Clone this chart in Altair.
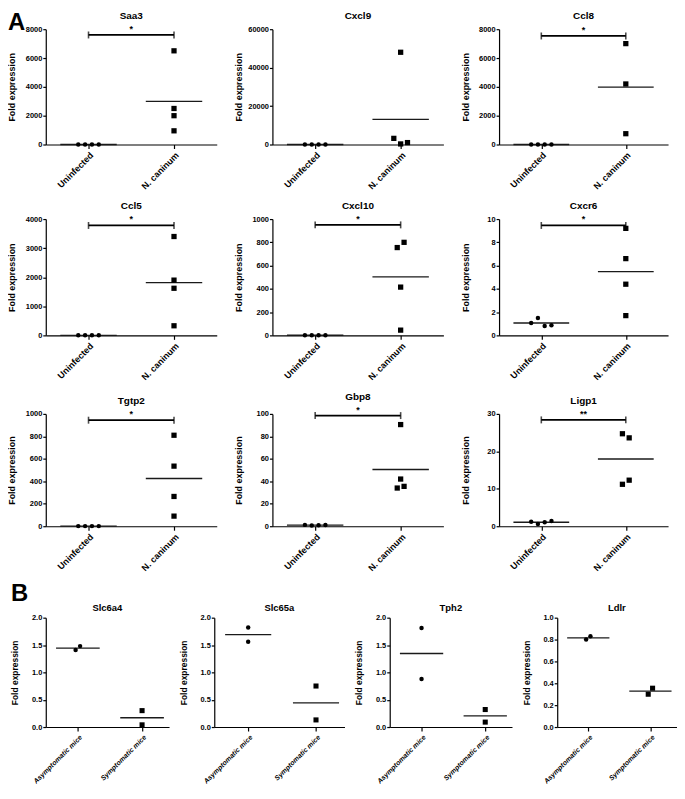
import altair as alt
import pandas as pd

FONT = "Liberation Sans"

# ---------------- Panel A data ----------------
A_GENES = ["Saa3", "Cxcl9", "Ccl8", "Ccl5", "Cxcl10", "Cxcr6", "Tgtp2", "Gbp8", "Ligp1"]
A_GROUPS = ["Uninfected", "N. caninum"]
A_YMAX = [8000, 60000, 8000, 4000, 1000, 10, 1000, 100, 30]
A_YSTEP = [2000, 20000, 2000, 1000, 200, 2, 200, 20, 10]
A_UNINFECTED = [
    [1.0, 1.0, 1.0, 1.0],
    [1.0, 1.0, 1.0, 1.0],
    [1.0, 1.0, 1.0, 1.0],
    [1.0, 1.0, 1.0, 1.0],
    [1.0, 1.0, 1.0, 1.0],
    [1.07, 1.5, 0.81, 0.87],
    [1.0, 1.0, 1.0, 1.0],
    [1.2, 0.6, 0.8, 1.1],
    [1.21, 0.61, 1.04, 1.39],
]
A_INFECTED = [
    [6500, 2500, 2000, 950],
    [48000, 3200, 300, 1000],
    [7000, 4200, 750],
    [3400, 1900, 1620, 330],
    [755, 800, 415, 45],
    [9.2, 6.6, 4.4, 1.7],
    [810, 535, 265, 90],
    [90.5, 42, 34, 35.5],
    [24.7, 23.6, 11.2, 12.3],
]
A_SIG_LABEL = ["*", "", "*", "*", "*", "*", "*", "*", "**"]
A_SIG_Y = [7600, 0, 7530, 3780, 950, 9.45, 944, 98.5, 28.4]

# ---------------- Panel B data ----------------
B_GENES = ["Slc6a4", "Slc65a", "Tph2", "Ldlr"]
B_GROUPS = ["Asymptomatic mice", "Symptomatic mice"]
B_YMAX = [2.0, 2.0, 2.0, 1.0]
B_YSTEP = [0.5, 0.5, 0.5, 0.2]
B_ASYMPTOMATIC = [[1.41, 1.48], [1.82, 1.56], [1.81, 0.88], [0.80, 0.83]]
B_SYMPTOMATIC = [[0.30, 0.04], [0.75, 0.13], [0.32, 0.09], [0.30, 0.355]]


def spread(vals, ymax, hpx, step, thr=7.0):
    """Horizontal offsets so that points that would overlap are placed side by side."""
    n = len(vals)
    px = [v / ymax * hpx for v in vals]
    order = sorted(range(n), key=lambda i: vals[i])
    clusters, cur = [], [order[0]]
    for a, b in zip(order, order[1:]):
        if px[b] - px[a] < thr:
            cur.append(b)
        else:
            clusters.append(cur)
            cur = [b]
    clusters.append(cur)
    off = [0.0] * n
    for c in clusters:
        cs = sorted(c)
        k = len(cs)
        for j, i in enumerate(cs):
            off[i] = (j - (k - 1) / 2) * step
    return off


def panel(title, groups, vals0, vals1, ymax, ystep, fmt, sig_label, sig_y,
          width, height, st):
    rows = []
    for gi, vals in enumerate((vals0, vals1)):
        offs = spread(vals, ymax, height, st["step"])
        for v, o in zip(vals, offs):
            rows.append({"group": groups[gi], "g": gi, "x": gi + o, "y": v})
    df = pd.DataFrame(rows)
    n = int(round(ymax / ystep))
    ticks = [round(i * ystep, 4) for i in range(n + 1)]
    xs = alt.Scale(domain=st["xdom"], nice=False, zero=False)
    ys = alt.Scale(domain=[0, ymax], nice=False, zero=True)
    lab = f"datum.value == 0 ? '{groups[0]}' : '{groups[1]}'"
    xa = alt.Axis(values=[0, 1], labelExpr=lab, title=None, labelAngle=-45,
                  labelFontSize=st["xlab"], labelFontStyle=st["xstyle"],
                  labelPadding=2, tickSize=4, grid=False)
    ya = alt.Axis(values=ticks, format=fmt, title="Fold expression",
                  titleFontSize=st["ytitle"], labelFontSize=st["ylab"],
                  minExtent=st["ext"], maxExtent=st["ext"], tickSize=3, labelPadding=1,
                  titlePadding=st["tpad"], grid=False)

    def X(f):
        return alt.X(f, scale=xs, axis=xa)

    def Y(f):
        return alt.Y(f, scale=ys, axis=ya)

    base = alt.Chart(df)
    layers = [
        base.transform_aggregate(m="mean(y)", groupby=["g"])
        .transform_calculate(xl=f"datum.g - {st['hw']}", xr=f"datum.g + {st['hw']}")
        .mark_rule(color="#1a1a1a", strokeWidth=1.3)
        .encode(x=X("xl:Q"), x2="xr:Q", y=Y("m:Q"))
    ]
    if sig_label:
        sdf = pd.DataFrame({"x0": [0], "x1": [1], "y": [sig_y], "t": [sig_label]})
        sb = alt.Chart(sdf)
        layers.append(sb.mark_rule(color="black", strokeWidth=1.8)
                      .encode(x=X("x0:Q"), x2="x1:Q", y=Y("y:Q")))
        layers.append(sb.transform_fold(["x0", "x1"], as_=["k", "xc"])
                      .mark_tick(orient="vertical", size=7, thickness=1.6, color="black")
                      .encode(x=X("xc:Q"), y=Y("y:Q")))
        layers.append(sb.transform_calculate(xm="(datum.x0 + datum.x1) / 2")
                      .mark_text(baseline="bottom", dy=-1, fontSize=9, fontWeight="bold",
                                 font=FONT, color="black")
                      .encode(x=X("xm:Q"), y=Y("y:Q"), text="t:N"))
    layers.append(base.transform_filter("datum.g == 0")
                  .mark_point(shape="circle", filled=True, size=st["cs"], color="black", opacity=1)
                  .encode(x=X("x:Q"), y=Y("y:Q")))
    layers.append(base.transform_filter("datum.g == 1")
                  .mark_point(shape="square", filled=True, size=st["ss"], color="black", opacity=1)
                  .encode(x=X("x:Q"), y=Y("y:Q")))
    return alt.layer(*layers).properties(
        width=width, height=height,
        title=alt.TitleParams(title, fontSize=st["tfs"], offset=st["toff"], font=FONT,
                              fontWeight="bold", color="black", frame="group"))


ST_A = dict(step=0.08, xdom=[-0.5, 1.5], hw=0.33, xlab=9, xstyle="normal", ylab=7.5,
            ytitle=9, ext=26, tpad=3, cs=20, ss=28, tfs=10, toff=4)
ST_B = dict(step=0.07, xdom=[-0.5, 1.42], hw=0.34, xlab=7, xstyle="italic", ylab=7.5,
            ytitle=8.5, ext=24, tpad=2, cs=20, ss=26, tfs=9.5, toff=1)

A_WIDTHS = [172, 172, 170]
A_HEIGHTS = [116, 117, 113]
B_WIDTHS = [124, 131, 123, 120]
B_HEIGHT = 110

rows = []
for r in range(3):
    panels = []
    for c in range(3):
        i = r * 3 + c
        panels.append(panel(A_GENES[i], A_GROUPS, A_UNINFECTED[i], A_INFECTED[i],
                            A_YMAX[i], A_YSTEP[i], "d", A_SIG_LABEL[i], A_SIG_Y[i],
                            A_WIDTHS[c], A_HEIGHTS[r], ST_A))
    row = alt.hconcat(*panels, spacing=18)
    if r == 0:
        row = row.properties(title=alt.TitleParams("A", anchor="start", fontSize=24, offset=-24,
                                                   font=FONT, fontWeight="bold", color="black"))
    rows.append(row)

b_panels = []
for i in range(4):
    b_panels.append(panel(B_GENES[i], B_GROUPS, B_ASYMPTOMATIC[i], B_SYMPTOMATIC[i],
                          B_YMAX[i], B_YSTEP[i], ".1f", "", 0,
                          B_WIDTHS[i], B_HEIGHT, ST_B))
rows.append(alt.hconcat(*b_panels, spacing=10.5).properties(
    title=alt.TitleParams("B", anchor="start", fontSize=24, offset=-3,
                          font=FONT, fontWeight="bold", color="black")))

chart = (
    alt.vconcat(*rows, spacing=9)
    .properties(padding=0)
    .configure_view(stroke=None)
    .configure_axis(domainColor="black", tickColor="black", labelColor="black",
                    titleColor="black", labelFont=FONT, titleFont=FONT,
                    labelFontWeight="bold", titleFontWeight="bold",
                    domainWidth=1.2, tickWidth=1.2, grid=False)
)

chart.save("out.html", embed_options={"renderer": "svg", "actions": False})
